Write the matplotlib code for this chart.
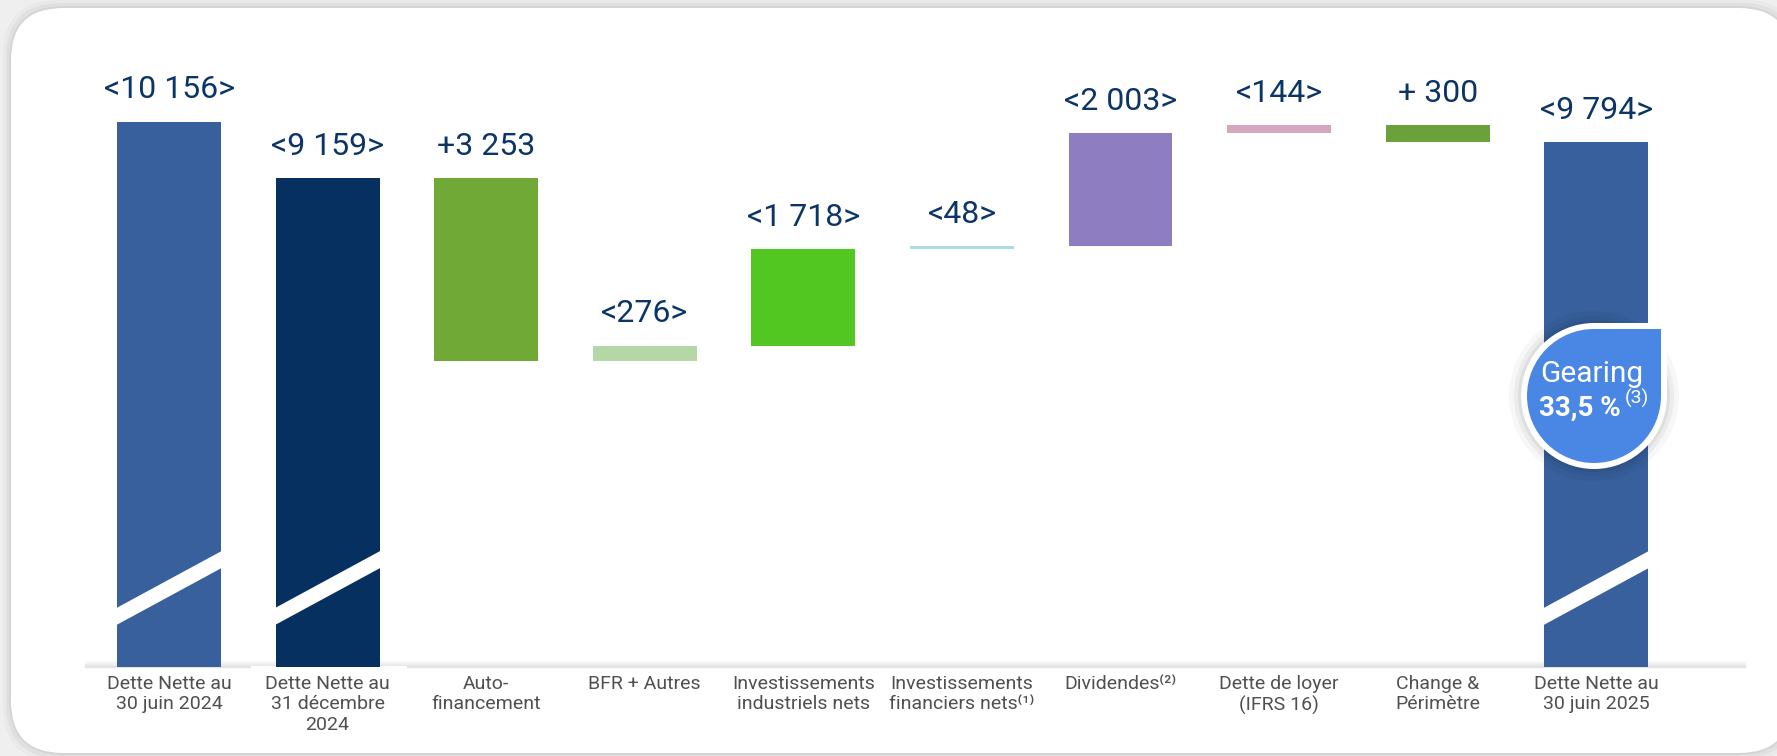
import numpy as np
import matplotlib
matplotlib.use("Agg")
import matplotlib.pyplot as plt
import matplotlib.transforms as mtransforms
from matplotlib.patches import FancyBboxPatch, Circle, Rectangle, Polygon

plt.rcParams['font.family'] = ['Roboto', 'DejaVu Sans']

# --- data (millions d'euros) ---
categories = [
    "Dette Nette au\n30 juin 2024",
    "Dette Nette au\n31 décembre\n2024",
    "Auto-\nfinancement",
    "BFR + Autres",
    "Investissements\nindustriels nets",
    "Investissements\nfinanciers nets⁽¹⁾",
    "Dividendes⁽²⁾",
    "Dette de loyer\n(IFRS 16)",
    "Change &\nPérimètre",
    "Dette Nette au\n30 juin 2025",
]
debt_june_2024 = 10156
debt_dec_2024 = 9159
changes = [-3253, 276, 1718, 48, 2003, 144, -300]   # effect on net debt
debt_june_2025 = 9794
value_labels = ["<10 156>", "<9 159>", "+3 253", "<276>", "<1 718>", "<48>",
                "<2 003>", "<144>", "+ 300", "<9 794>"]
gearing_label = "33,5 %"

bar_colors = ["#37609C", "#06305F", "#70A935", "#B5D6A7", "#52C722",
              "#A8DDE5", "#8E7DC0", "#D5A6BD", "#6AA13A", "#37609C"]

# waterfall geometry
bottoms = [0, 0]
heights = [debt_june_2024, debt_dec_2024]
level = debt_dec_2024
for c in changes:
    new = level + c
    bottoms.append(min(level, new))
    heights.append(abs(c))
    level = new
bottoms.append(0)
heights.append(debt_june_2025)
bottoms = np.array(bottoms, dtype=float)
heights = np.array(heights, dtype=float)
x = np.arange(len(categories))

W, H = 1777, 756
fig = plt.figure(figsize=(W / 100, H / 100), dpi=100)
fig.patch.set_facecolor("#EFEFEF")
pix = mtransforms.Affine2D().scale(1 / W, 1 / H) + fig.transFigure

# white card with soft shadow
for k, a in [(8, 0.025), (5, 0.035), (2, 0.05)]:
    fig.add_artist(FancyBboxPatch((11 - k, 3 - k), 1780 + 2 * k, 745 + 2 * k,
                                  boxstyle="round,pad=0,rounding_size=55",
                                  transform=pix, fc="black", ec="none",
                                  alpha=a, zorder=-6))
fig.add_artist(FancyBboxPatch((11, 3), 1780, 745,
                              boxstyle="round,pad=0,rounding_size=52",
                              transform=pix, fc="white", ec="none", zorder=-5))

# axes: bottom at y=667px, top at y=30px
ax_bottom_px, ax_top_px = 667, 30
ax = fig.add_axes([0, (H - ax_bottom_px) / H, 1, (ax_bottom_px - ax_top_px) / H])
ax.patch.set_alpha(0)
ax.set_xlim(-1.066, 10.14)
ax.set_ylim(489, 11783)
for s in ax.spines.values():
    s.set_visible(False)
ax.set_yticks([])

# baseline shadow
for k in range(7):
    fig.add_artist(plt.Line2D([85 / W, 1745 / W],
                              [(H - ax_bottom_px + k) / H] * 2,
                              color="black", alpha=0.09 * (1 - k / 7), lw=1,
                              zorder=-1))
fig.add_artist(Rectangle((251, H - 702), 156, 36, transform=pix,
                         fc="white", ec="none", zorder=-0.5))

bw = 0.655
ax.bar(x, heights, bottom=bottoms, width=bw, color=bar_colors, zorder=2)

# value labels
for xi, b, h, lab in zip(x, bottoms, heights, value_labels):
    ax.annotate(lab, (xi, b + h), xytext=(0, 23), textcoords="offset points",
                ha="center", va="center", fontsize=23, color="#0B3566",
                annotation_clip=False)

# axis break slashes on the total bars
ax_h = ax_bottom_px - ax_top_px
blend = mtransforms.blended_transform_factory(ax.transData, ax.transAxes)
yl, yr, th = 50 / ax_h, 108 / ax_h, 17 / ax_h
for i in [0, 1, 9]:
    xl, xr = i - bw / 2 - 0.01, i + bw / 2 + 0.01
    ax.add_patch(Polygon([(xl, yl - th / 2), (xr, yr - th / 2),
                          (xr, yr + th / 2), (xl, yl + th / 2)],
                         closed=True, transform=blend, fc="white", ec="none",
                         zorder=3))

ax.set_xticks(x)
ax.set_xticklabels(categories, fontsize=14, color="#505050", linespacing=1.15,
                   va="top")
ax.tick_params(axis="x", length=0, pad=6)

# gearing bubble
cx, cy, r = 1594 / 100, (H - 396) / 100, 0.67
inch = fig.dpi_scale_trans
for k, a in [(0.18, 0.03), (0.13, 0.045), (0.09, 0.06)]:
    fig.add_artist(Circle((cx, cy), r + k, transform=inch, fc="black",
                          ec="none", alpha=a, zorder=4))
b = 0.06
fig.add_artist(Circle((cx, cy), r + b, transform=inch, fc="white", ec="none", zorder=5))
fig.add_artist(Rectangle((cx, cy), r + b, r + b, transform=inch, fc="white",
                         ec="none", zorder=5))
fig.add_artist(Circle((cx, cy), r, transform=inch, fc="#4A87E5", ec="none", zorder=6))
fig.add_artist(Rectangle((cx, cy), r, r, transform=inch, fc="#4A87E5",
                         ec="none", zorder=6))
fig.text(1592 / W, 1 - 374 / H, "Gearing", ha="center", va="center",
         fontsize=21.5, color="white", zorder=7)
fig.text(1580 / W, 1 - 408 / H, gearing_label, ha="center", va="center",
         fontsize=20, fontweight="bold", color="white", zorder=7)
fig.text(1637 / W, 1 - 398 / H, "(3)", ha="center", va="center",
         fontsize=14, color="white", zorder=7)

fig.savefig("out.png", dpi=100, facecolor=fig.get_facecolor())
